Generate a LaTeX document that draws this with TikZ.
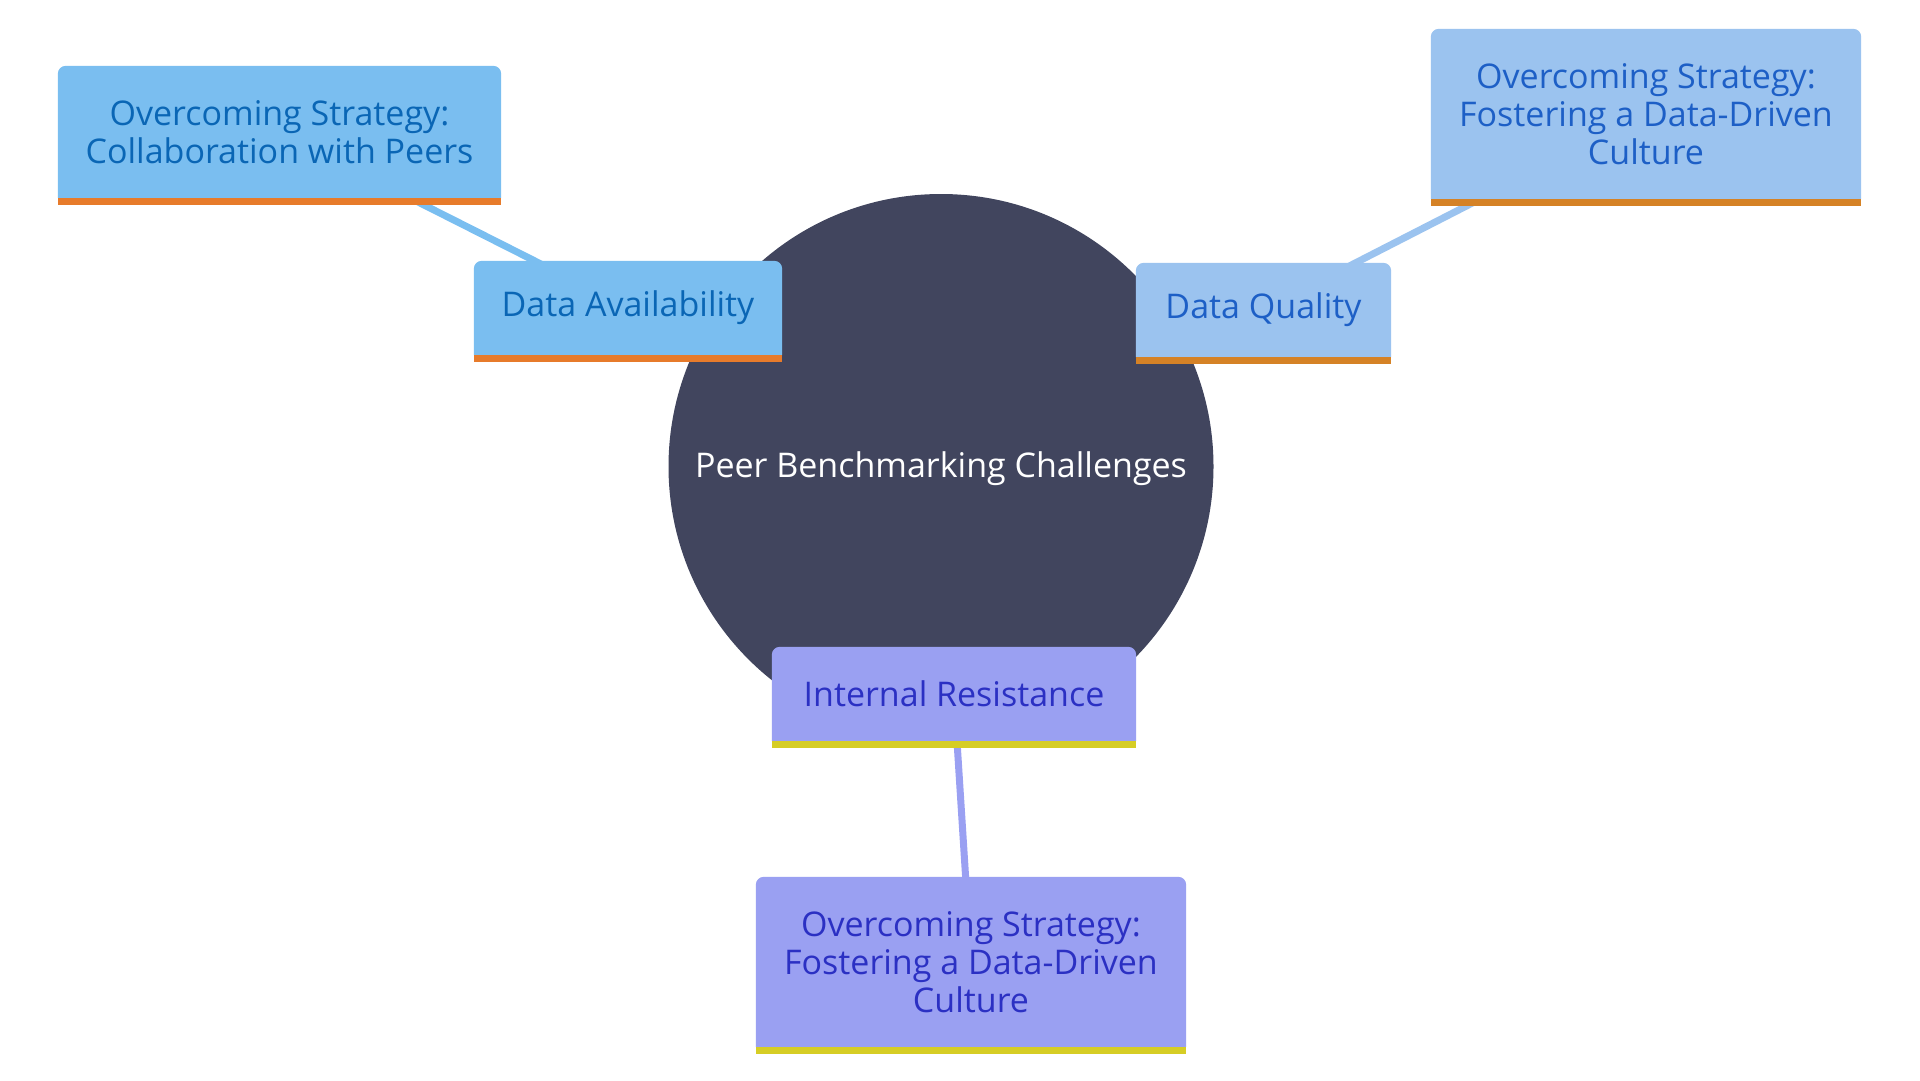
\documentclass[tikz,border=0pt]{standalone}
\usepackage{fontspec}
\setmainfont{Open Sans}
\pgfdeclarelayer{edges}
\pgfdeclarelayer{shapes}
\pgfsetlayers{edges,shapes,main}
\definecolor{fillA}{HTML}{7ABEF0}
\definecolor{textA}{HTML}{0A66B5}
\definecolor{barA}{HTML}{E77B2B}
\definecolor{fillB}{HTML}{9BC3EF}
\definecolor{textB}{HTML}{1D5FC6}
\definecolor{barB}{HTML}{D58226}
\definecolor{fillC}{HTML}{9AA0F2}
\definecolor{textC}{HTML}{2B30C3}
\definecolor{barC}{HTML}{D6CD25}
\definecolor{rootfill}{HTML}{41455E}
\tikzset{
  txtbox/.style={inner sep=0pt, align=center, font=\fontsize{34}{38}\selectfont},
  edgeline/.style={line width=7pt},
}
\newcommand{\mmbox}[3]{%
  \fill[#2] (#1.south west) [rounded corners=8pt] -- (#1.north west) -- (#1.north east) [sharp corners] -- (#1.south east) -- cycle;
  \fill[#3] (#1.south west) rectangle ([yshift=-7pt]#1.south east);
}
\begin{document}
\begin{tikzpicture}[x=1pt,y=-1pt]
\useasboundingbox (0,0) rectangle (1920,1080);
% nodes (text)
\node[txtbox, text=white] (root) at (941,469) {Peer Benchmarking Challenges};
\node[txtbox, text=textA, minimum width=443pt, minimum height=132pt] (s1) at (279.5,132) {Overcoming Strategy:\\Collaboration with Peers};
\node[txtbox, text=textA, minimum width=308pt, minimum height=94pt] (da) at (628,308) {\raisebox{-2.5pt}{Data Availability}};
\node[txtbox, text=textB, minimum width=255pt, minimum height=94pt] (dq) at (1263.5,310) {\raisebox{-2.5pt}{Data Quality}};
\node[txtbox, text=textB, minimum width=430pt, minimum height=170pt] (s2) at (1646,114) {Overcoming Strategy:\\Fostering a Data-Driven\\Culture};
\node[txtbox, text=textC, minimum width=364pt, minimum height=94pt] (ir) at (954,694) {Internal Resistance};
\node[txtbox, text=textC, minimum width=430pt, minimum height=170pt] (s3) at (971,962) {Overcoming Strategy:\\Fostering a Data-Driven\\Culture};
% shapes
\begin{pgfonlayer}{shapes}
\fill[rootfill] ([yshift=2.5pt]root.center) circle[radius=272.5pt];
\mmbox{s1}{fillA}{barA}
\mmbox{da}{fillA}{barA}
\mmbox{dq}{fillB}{barB}
\mmbox{s2}{fillB}{barB}
\mmbox{ir}{fillC}{barC}
\mmbox{s3}{fillC}{barC}
\end{pgfonlayer}
% connectors
\begin{pgfonlayer}{edges}
\draw[edgeline, fillA] (s1.center) -- (da.center);
\draw[edgeline, fillB] (dq.center) -- (s2.center);
\draw[edgeline, fillC] (ir.center) -- (s3.center);
\end{pgfonlayer}
\end{tikzpicture}
\end{document}
